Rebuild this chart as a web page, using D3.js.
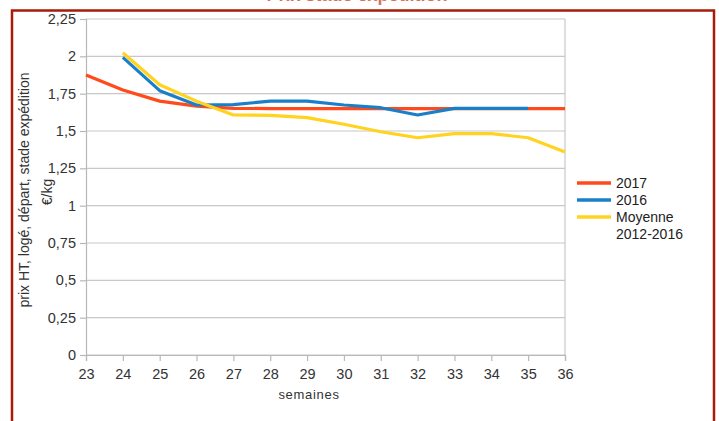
<!DOCTYPE html>
<html><head><meta charset="utf-8">
<script src="https://cdn.jsdelivr.net/npm/d3@7"></script>
<style>
html,body{margin:0;padding:0;background:#fff;}
svg{display:block;font-family:"Liberation Sans","DejaVu Sans",Arial,sans-serif;}
</style></head>
<body>
<svg id="c" width="719" height="421"></svg>
<script>
const weeks = [23,24,25,26,27,28,29,30,31,32,33,34,35,36];
const yTicks = [0,0.25,0.5,0.75,1,1.25,1.5,1.75,2,2.25];
const s2017 = [1.875,1.775,1.70,1.667,1.652,1.65,1.65,1.65,1.65,1.65,1.65,1.65,1.65,1.65];
const s2016 = [null,1.993,1.77,1.674,1.676,1.70,1.70,1.674,1.656,1.607,1.652,1.652,1.652,null];
const sMoy = [null,2.024,1.81,1.70,1.607,1.605,1.59,1.545,1.495,1.455,1.482,1.482,1.455,1.36];
const seriesNames = ["2017","2016","Moyenne|2012-2016"];
const colors = ["#ff4b1c","#1a7fc9","#ffd320"];
const seriesData = [s2017,s2016,sMoy];

const svg = d3.select("#c");
const x = d3.scaleLinear().domain([23,36]).range([86,565]);
const y = d3.scaleLinear().domain([0,2.25]).range([355,19]);

// title (mostly cut off at top, as in the reference)
svg.append("text").attr("x",357).attr("y",1).attr("text-anchor","middle")
  .attr("font-size",18).attr("font-weight","bold").attr("fill","#d9705f")
  .text("Prix stade expédition");

// gridlines
svg.append("g").selectAll("line").data(yTicks).join("line")
  .attr("x1",86).attr("x2",565).attr("y1",d=>y(d)).attr("y2",d=>y(d))
  .attr("stroke","#c8c8c8").attr("stroke-width",1.2);
svg.append("line").attr("x1",565).attr("x2",565).attr("y1",y(2.25)).attr("y2",y(0))
  .attr("stroke","#c8c8c8").attr("stroke-width",1.2);

// y axis
const yAxis = d3.axisLeft(y).tickValues(yTicks).tickSize(6).tickPadding(4)
  .tickFormat(d=>String(d).replace(".",","));
const gy = svg.append("g").attr("transform","translate(86,0)").call(yAxis);
gy.select(".domain").attr("stroke","#b8b8b8").attr("stroke-width",1.2);
gy.selectAll(".tick line").attr("stroke","#b8b8b8").attr("stroke-width",1.2);
gy.selectAll("text").attr("font-size",14.5).attr("fill","#333")
  .attr("font-family","Liberation Sans, Arial, sans-serif");

// x axis
const xAxis = d3.axisBottom(x).tickValues(weeks).tickSize(6).tickPadding(8).tickFormat(d3.format("d"));
const gx = svg.append("g").attr("transform","translate(0,355)").call(xAxis);
gx.select(".domain").attr("stroke","#b8b8b8").attr("stroke-width",1.2);
gx.selectAll(".tick line").attr("stroke","#b8b8b8").attr("stroke-width",1.2);
gx.selectAll("text").attr("font-size",14.5).attr("fill","#333")
  .attr("font-family","Liberation Sans, Arial, sans-serif");

// axis titles
svg.append("text").attr("x",309).attr("y",399).attr("text-anchor","middle")
  .attr("font-size",13).attr("fill","#333").attr("letter-spacing",0.7).text("semaines");
svg.append("text").attr("transform","translate(29,190) rotate(-90)").attr("text-anchor","middle")
  .attr("font-size",14).attr("fill","#333").text("prix HT, logé, départ, stade expédition");
svg.append("text").attr("transform","translate(52,192) rotate(-90)").attr("text-anchor","middle")
  .attr("font-size",14).attr("fill","#333").text("€/kg");

// lines
const line = d3.line().defined(d=>d.v!=null).x(d=>x(d.w)).y(d=>y(d.v));
seriesData.forEach((s,i)=>{
  svg.append("path").datum(weeks.map((w,j)=>({w:w,v:s[j]})))
    .attr("d",line).attr("fill","none").attr("stroke",colors[i])
    .attr("stroke-width",3.2).attr("stroke-linejoin","round");
});

// legend
const lg = svg.append("g");
const ly = [183,200,217];
seriesNames.forEach((n,i)=>{
  lg.append("line").attr("x1",577).attr("x2",611).attr("y1",ly[i]).attr("y2",ly[i])
    .attr("stroke",colors[i]).attr("stroke-width",3.5);
  n.split("|").forEach((t,k)=>{
    lg.append("text").attr("x",616).attr("y",ly[i]+5+k*17).attr("font-size",14)
      .attr("fill","#222").text(t);
  });
});

// frame
svg.append("path").attr("d","M12,421 L12,10.5 L714,10.5 L714,421")
  .attr("fill","none").attr("stroke","#a61c08").attr("stroke-width",2.5);
</script>
</body></html>
